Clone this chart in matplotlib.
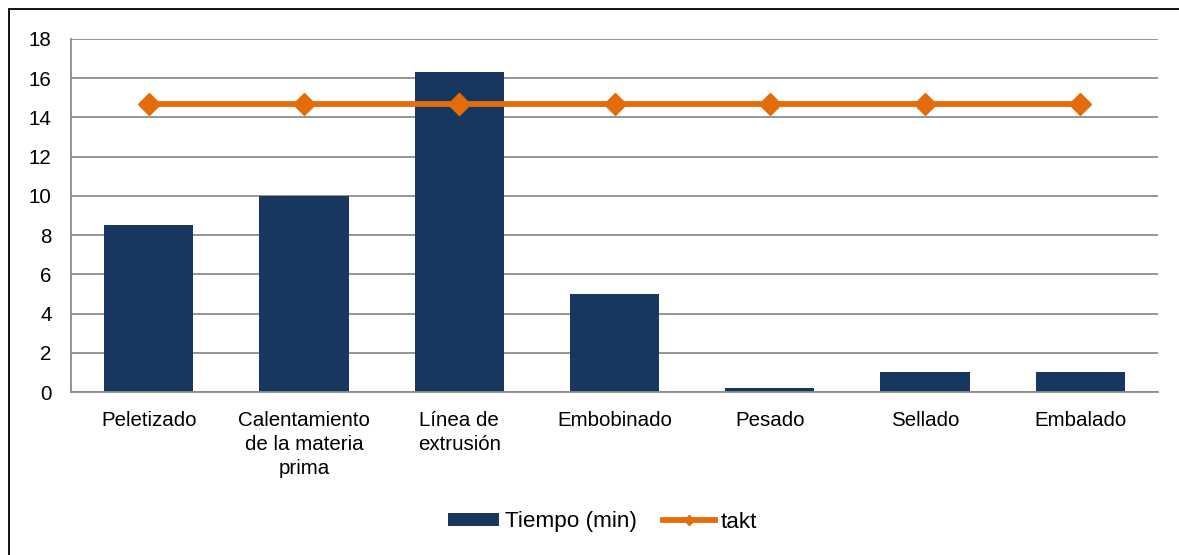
import numpy as np
import matplotlib.pyplot as plt
from matplotlib.patches import Rectangle

plt.rcParams['font.family'] = ['Liberation Sans', 'DejaVu Sans']

etapas = ['Peletizado', 'Calentamiento\nde la materia\nprima', 'Línea de\nextrusión',
          'Embobinado', 'Pesado', 'Sellado', 'Embalado']
tiempo = [8.5, 10, 16.3, 5, 0.2, 1, 1]
takt = [14.7, 14.7, 14.7, 14.7, 14.7, 14.7, 14.7]

azul = '#17375E'
naranja = '#E46C0A'

fig = plt.figure(figsize=(11.79, 5.55), dpi=100)
# marco exterior del grafico
fig.patches.append(Rectangle((9 / 1179, -0.05), 1.2, 1 - 9 / 555 + 0.05,
                             transform=fig.transFigure, fill=False,
                             edgecolor='black', linewidth=1.3))

ax = fig.add_axes([71 / 1179, 1 - 392 / 555, (1158 - 71) / 1179, (392 - 39) / 555])
x = np.arange(len(etapas))
barras = ax.bar(x, tiempo, width=0.575, color=azul, label='Tiempo (min)', zorder=2)
linea, = ax.plot(x, takt, color=naranja, linewidth=4.2, marker='D', markersize=11,
                 label='takt', zorder=3)

ax.set_xlim(-0.5, len(etapas) - 0.5)
ax.set_ylim(0, 18)
ax.set_yticks(range(0, 19, 2))
ax.set_xticks(x)
ax.set_xticklabels(etapas, linespacing=1.32)
ax.tick_params(axis='both', length=0, labelsize=14.8, colors='black')
ax.tick_params(axis='x', pad=14)
ax.tick_params(axis='y', pad=14)
ax.yaxis.grid(True, color='#8C8C8C', linewidth=1.3, zorder=0)
ax.set_axisbelow(True)
for s in ['top', 'right']:
    ax.spines[s].set_visible(False)
for s in ['left', 'bottom']:
    ax.spines[s].set_color('#8C8C8C')
    ax.spines[s].set_linewidth(1.3)

fig.legend([barras, linea], ['Tiempo (min)', 'takt'], loc='center',
           bbox_to_anchor=(0.511, 1 - 522 / 555), ncol=2, frameon=False,
           fontsize=16.2, handlelength=2.3, handleheight=0.55, handletextpad=0.27,
           columnspacing=1.15, markerscale=0.45)

fig.savefig('out.png', dpi=100)
